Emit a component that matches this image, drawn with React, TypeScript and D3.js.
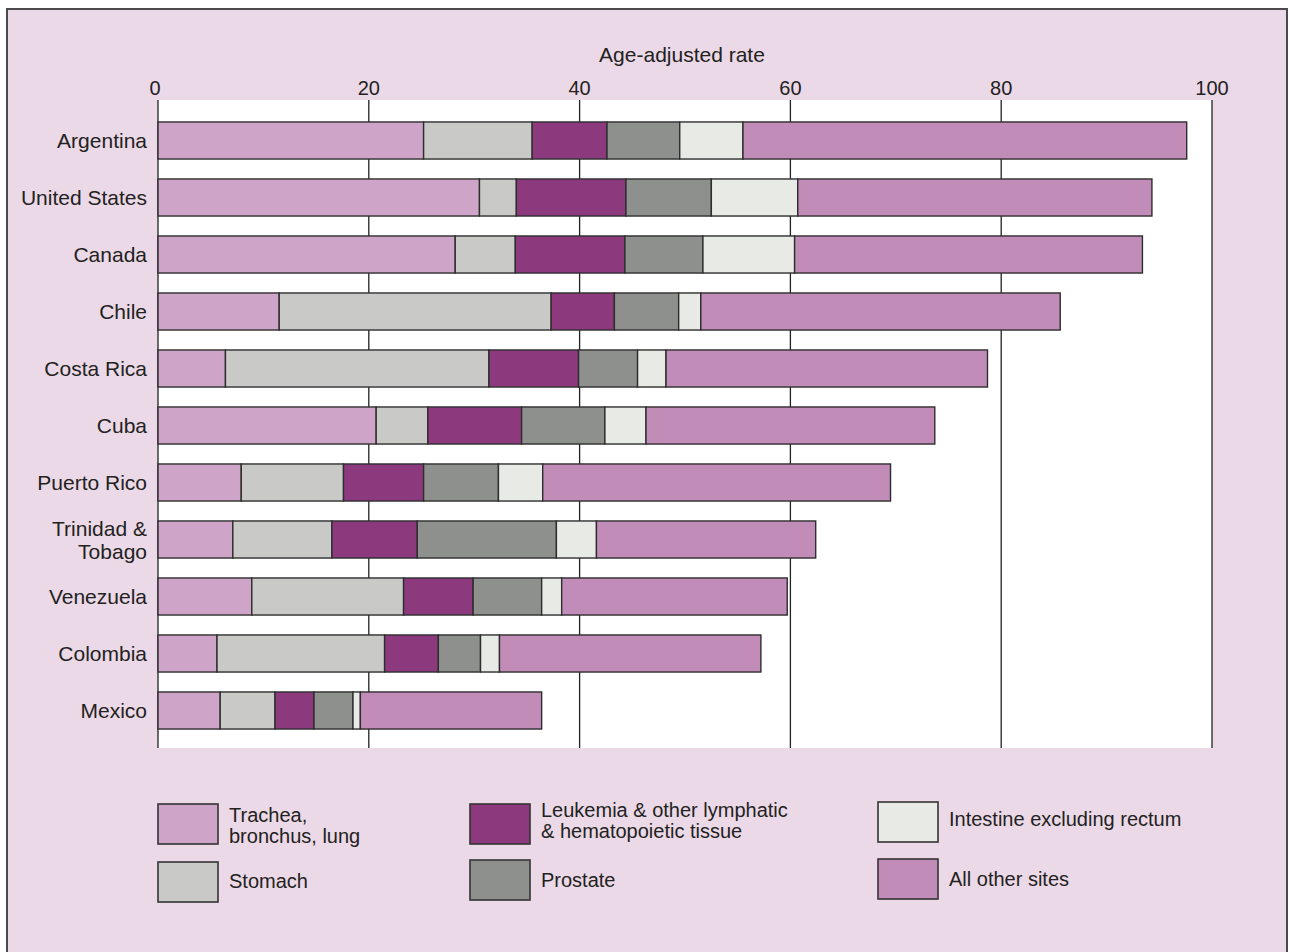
import React from "react";
import * as d3 from "d3";

const countries = ["Argentina", "United States", "Canada", "Chile", "Costa Rica", "Cuba", "Puerto Rico", "Trinidad & Tobago", "Venezuela", "Colombia", "Mexico"];
const lung = [25.2, 30.5, 28.2, 11.5, 6.4, 20.7, 7.9, 7.1, 8.9, 5.6, 5.9];
const stomach = [10.3, 3.5, 5.7, 25.8, 25.0, 4.9, 9.7, 9.4, 14.4, 15.9, 5.2];
const leukemia = [7.1, 10.4, 10.4, 6.0, 8.5, 8.9, 7.6, 8.1, 6.6, 5.1, 3.7];
const prostate = [6.9, 8.1, 7.4, 6.1, 5.6, 7.9, 7.1, 13.2, 6.5, 4.0, 3.7];
const intestine = [6.0, 8.2, 8.7, 2.1, 2.7, 3.9, 4.2, 3.8, 1.9, 1.8, 0.7];
const otherSites = [42.1, 33.6, 33.0, 34.1, 30.5, 27.4, 33.0, 20.8, 21.4, 24.8, 17.2];
const seriesKeys = ["lung", "stomach", "leukemia", "prostate", "intestine", "other"];
const seriesColors = ["#cea5c9", "#c9cac7", "#8c3a7d", "#8e908d", "#e8eae6", "#c18cb7"];
const tickValues = [0, 20, 40, 60, 80, 100];
const axisTitle = "Age-adjusted rate";

const W = 1294, H = 952;
const FONT = "'Liberation Sans', Arial, Helvetica, sans-serif";

export default function App() {
  const rows = countries.map((c, i) => ({
    country: c,
    lung: lung[i], stomach: stomach[i], leukemia: leukemia[i],
    prostate: prostate[i], intestine: intestine[i], other: otherSites[i],
  }));
  const stack = d3.stack<any>().keys(seriesKeys)(rows);
  const x = d3.scaleLinear().domain([0, 100]).range([158, 1212]);
  const y = d3.scaleBand().domain(countries).range([112, 739]).paddingInner(0.35).paddingOuter(0.175);
  const plotTop = 100, plotBottom = 748;

  const legend = [
    { key: 0, x: 158, y: 804, lines: ["Trachea,", "bronchus, lung"], ty: [822, 843] },
    { key: 1, x: 158, y: 862, lines: ["Stomach"], ty: [888] },
    { key: 2, x: 470, y: 804, lines: ["Leukemia & other lymphatic", "& hematopoietic tissue"], ty: [817, 838] },
    { key: 3, x: 470, y: 860, lines: ["Prostate"], ty: [887] },
    { key: 4, x: 878, y: 802, lines: ["Intestine excluding rectum"], ty: [826] },
    { key: 5, x: 878, y: 859, lines: ["All other sites"], ty: [886] },
  ];

  return (
    <svg width={W} height={H} style={{ position: "absolute", left: 0, top: 0 }} fontFamily={FONT}>
      <rect x={0} y={0} width={W} height={H} fill="#ffffff" />
      <rect x={7} y={9} width={1280} height={H} fill="#ecd9e7" stroke="#4a4a4a" strokeWidth={2} />
      <rect x={x(0)} y={plotTop} width={x(100) - x(0)} height={plotBottom - plotTop} fill="#ffffff" />
      {tickValues.map((t) => (
        <line key={t} x1={x(t)} x2={x(t)} y1={plotTop} y2={plotBottom} stroke="#222" strokeWidth={1.3} />
      ))}
      {tickValues.map((t) => (
        <text key={"t" + t} x={x(t) - (t === 0 ? 3 : 0)} y={95} textAnchor="middle" fontSize={20} fill="#222">{t}</text>
      ))}
      <text x={682} y={62} textAnchor="middle" fontSize={21} fill="#222">{axisTitle}</text>
      {stack.map((s, si) => (
        <g key={s.key}>
          {s.map((d, i) => (
            <rect key={i} x={x(d[0])} y={y(countries[i])!} width={x(d[1]) - x(d[0])} height={y.bandwidth()}
              fill={seriesColors[si]} stroke="#2e2e2e" strokeWidth={1.4} />
          ))}
        </g>
      ))}
      {countries.map((c) => {
        const cy = y(c)! + y.bandwidth() / 2;
        if (c === "Trinidad & Tobago") {
          return (
            <g key={c}>
              <text x={147} y={cy - 4} textAnchor="end" fontSize={21} fill="#222">Trinidad &amp;</text>
              <text x={147} y={cy + 19} textAnchor="end" fontSize={21} fill="#222">Tobago</text>
            </g>
          );
        }
        return <text key={c} x={147} y={cy + 7} textAnchor="end" fontSize={21} fill="#222">{c}</text>;
      })}
      {legend.map((l) => (
        <g key={l.key}>
          <rect x={l.x} y={l.y} width={60} height={40} fill={seriesColors[l.key]} stroke="#333" strokeWidth={1.6} />
          {l.lines.map((t, j) => (
            <text key={j} x={l.x + 71} y={l.ty[j]} fontSize={20} fill="#222">{t}</text>
          ))}
        </g>
      ))}
    </svg>
  );
}
